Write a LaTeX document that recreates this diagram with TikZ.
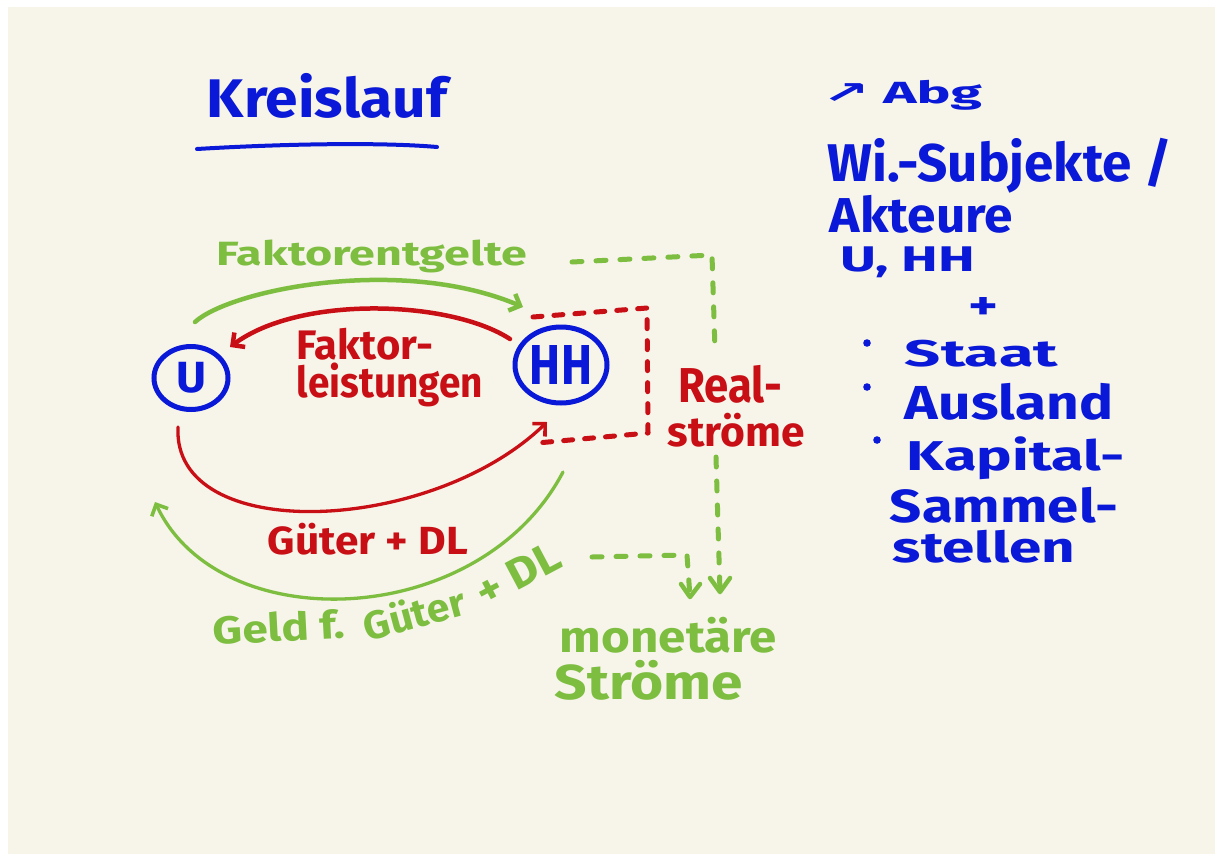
\documentclass[tikz,border=0pt]{standalone}
\usepackage{fontspec}
\setmainfont{Fira Sans}
\newfontfamily\symfont{DejaVu Sans}
\usepackage{graphicx}
\usetikzlibrary{arrows.meta,shapes.geometric}
\definecolor{cream}{RGB}{247,244,233}
\definecolor{penblue}{RGB}{10,25,215}
\definecolor{penred}{RGB}{200,15,22}
\definecolor{pengreen}{RGB}{125,190,65}
\newcommand{\hwbox}[3]{\resizebox*{#1pt}{#2pt}{\bfseries #3}}
\tikzset{
  hw/.style={inner sep=0pt, outer sep=0pt},
  flow/.style={line width=4.5pt, line cap=round, line join=round, -{Straight Barb[length=9pt,width=18pt,line width=4.5pt]}},
  thinflow/.style={line width=3.3pt, line cap=round, line join=round, -{Straight Barb[length=9pt,width=18pt,line width=3.6pt]}},
  dashflow/.style={line width=5pt, line cap=round, line join=round, dash pattern=on 10pt off 14pt},
  actor/.style={ellipse, draw=penblue, line width=5pt, inner sep=0pt, text=penblue}
}
\begin{document}
\begin{tikzpicture}[x=1pt,y=-1pt]
\useasboundingbox (0,0) rectangle (1215,854);
\fill[white] (0,0) rectangle (1215,854);
\fill[cream] (8,7) rectangle (1215,854);

% title
\node[hw, text=penblue] (title) at (327,95.5) {\hwbox{240}{45}{Kreislauf}};
\coordinate (ul1) at (197,149);
\coordinate (ul2) at (437,147);
\draw[penblue, line width=4pt, line cap=round] (ul1) .. controls (280,144) and (380,142) .. (ul2);

% actors
\node[actor, minimum width=74pt, minimum height=63pt] (U) at (191,378) {\hwbox{30}{31}{U}};
\node[actor, minimum width=92pt, minimum height=76pt] (HH) at (561,365) {\hwbox{62}{39}{HH}};

% flow labels
\node[hw, text=pengreen] (lfe) at (372,256.5) {\hwbox{310}{33}{Faktorentgelte}};
\node[hw, text=penred] (lfl1) at (365,344) {\hwbox{136}{32}{Faktor-}};
\node[hw, text=penred] (lfl2) at (390,385) {\hwbox{186}{44}{leistungen}};
\node[hw, text=penred] (lreal1) at (730,384) {\hwbox{104}{38}{Real-}};
\node[hw, text=penred] (lreal2) at (736.5,430) {\hwbox{137}{34}{ströme}};
\node[hw, text=penred] (lgdl) at (368,539) {\hwbox{200}{32}{Güter + DL}};
\node[hw, text=pengreen, rotate=3] (lgeld1) at (279,627) {\hwbox{132}{30}{Geld f.}};
\node[hw, text=pengreen, rotate=15] (lgeld2) at (414,613) {\hwbox{104}{32}{Güter}};
\node[hw, text=pengreen, rotate=28] (lgeld3) at (518,574) {\hwbox{90}{30}{+ DL}};
\node[hw, text=pengreen] (lmon1) at (668.5,635) {\hwbox{217}{36}{monetäre}};
\node[hw, text=pengreen] (lmon2) at (649,680) {\hwbox{188}{40}{Ströme}};

% main flows
\coordinate (fe1) at (195,322);
\coordinate (fe2) at (523,307);
\draw[flow, pengreen] (fe1) .. controls (230,290) and (400,255) .. (fe2);
\coordinate (fl1) at (510,339);
\coordinate (fl2) at (230,347);
\draw[flow, penred] (fl1) .. controls (450,300) and (300,295) .. (fl2);
\coordinate (g1) at (178,427);
\coordinate (g2) at (547,422);
\draw[thinflow, penred] (g1) .. controls (172,545) and (430,535) .. (g2);
\coordinate (m1) at (563,472);
\coordinate (m2) at (155,502);
\draw[thinflow, pengreen] (m1) .. controls (480,630) and (220,640) .. (m2);

% red dashed bracket (Realstroeme)
\coordinate (r1) at (533,317);
\coordinate (r2) at (647,308);
\coordinate (r3) at (648,433);
\coordinate (r4) at (537,443);
\draw[penred, line width=5pt, line cap=round, line join=round, dash pattern=on 9pt off 12pt] (r1) -- (r2) -- (r3) -- (r4);

% green dashed connectors (monetaere Stroeme)
\coordinate (d1) at (572,262);
\coordinate (d2) at (712,255);
\coordinate (d3) at (715,350);
\coordinate (d4) at (716,457);
\coordinate (d5) at (720,592);
\draw[dashflow, pengreen] (d1) -- (d2) -- (d3);
\draw[dashflow, pengreen] (d4) -- (d5);
\draw[pengreen, line width=4.5pt, line cap=round, line join=round] (710,578) -- (d5) -- (730,578);
\coordinate (e1) at (592,557);
\coordinate (e2) at (687,555);
\coordinate (e3) at (690,597);
\draw[dashflow, pengreen] (e1) -- (e2) -- (e3);
\draw[pengreen, line width=4.5pt, line cap=round, line join=round] (681,584) -- (e3) -- (700,584);

% right column
\node[hw, text=penblue] (abg) at (902,95) {\hwbox{160}{30}{{\symfont ↗}\ Abg}};
\node[hw, text=penblue] (ws) at (1000,165.5) {\hwbox{344}{55}{Wi.-Subjekte /}};
\node[hw, text=penblue] (akt) at (921.5,214) {\hwbox{183}{38}{Akteure}};
\node[hw, text=penblue] (uhh) at (907.5,262.5) {\hwbox{135}{31}{U, HH}};
\node[hw, text=penblue] (plus) at (983,308) {\hwbox{30}{22}{+}};
\node[hw, text=penblue] (staat) at (981.5,353.5) {\hwbox{153}{27}{Staat}};
\node[hw, text=penblue] (ausl) at (1009,401.5) {\hwbox{208}{37}{Ausland}};
\node[hw, text=penblue] (kap) at (1016,458.5) {\hwbox{218}{43}{Kapital-}};
\node[hw, text=penblue] (samm) at (1004,505) {\hwbox{228}{36}{Sammel-}};
\node[hw, text=penblue] (stel) at (984,546.5) {\hwbox{182}{33}{stellen}};
\fill[penblue] (867,343) circle (3.8pt);
\fill[penblue] (867,387) circle (3.8pt);
\fill[penblue] (877,440) circle (3.8pt);
\end{tikzpicture}
\end{document}
